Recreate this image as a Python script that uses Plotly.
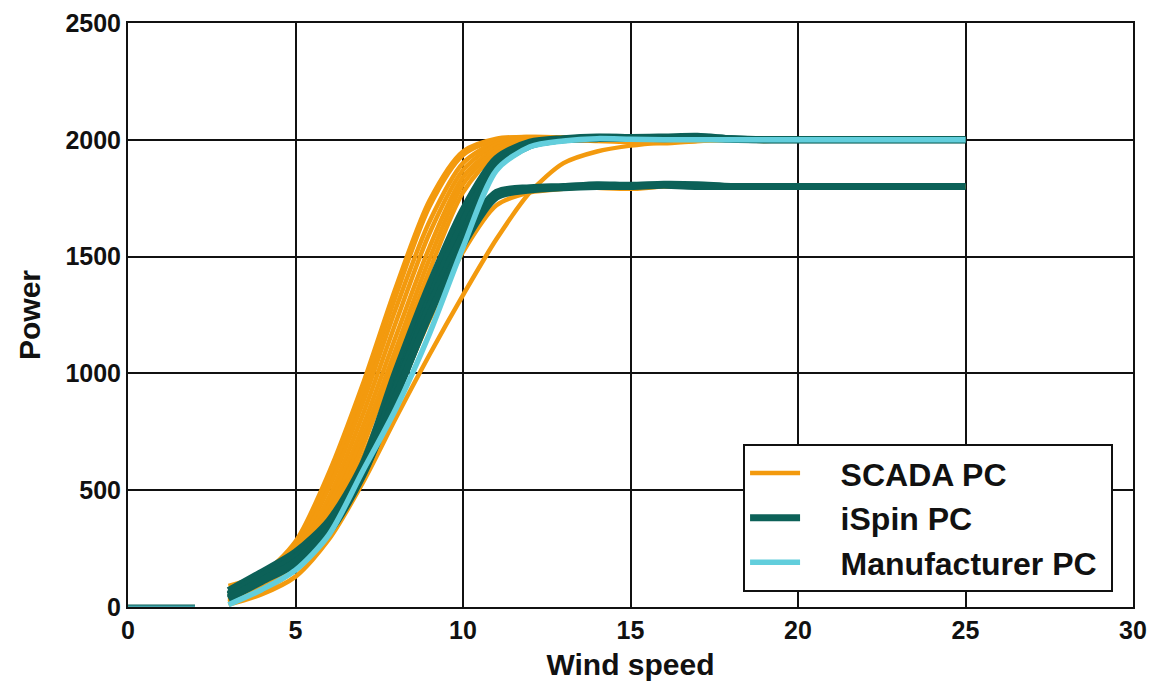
import plotly.graph_objects as go

# ---- data ----
wind = [3, 4, 5, 6, 7, 8, 9, 10, 11, 12, 13, 14, 15, 16, 17, 18, 19, 20, 21, 22, 23, 24, 25]

scada_1 = [90, 140, 280, 575, 950, 1370, 1740, 1950, 2005, 2012, 2010, 2005, 2000, 2000, 2000, 2000, 2000, 2000, 2000, 2000, 2000, 2000, 2000]
scada_2 = [60, 135, 265, 545, 915, 1335, 1715, 1935, 2000, 2012, 2010, 2005, 2000, 2000, 2000, 2000, 2000, 2000, 2000, 2000, 2000, 2000, 2000]
scada_3 = [50, 125, 250, 510, 870, 1280, 1650, 1900, 1990, 2010, 2010, 2005, 2000, 2000, 2000, 2000, 1995, 2000, 2000, 2000, 2000, 2000, 2000]
scada_4 = [40, 110, 232, 470, 820, 1220, 1600, 1870, 1980, 2005, 2010, 2002, 2000, 2000, 2000, 2000, 2000, 2000, 2000, 2000, 2000, 2000, 2000]
scada_5 = [30, 100, 215, 435, 770, 1160, 1540, 1840, 1965, 2000, 2005, 2000, 2000, 2000, 2000, 2000, 2000, 2000, 2000, 2000, 2000, 2000, 2000]
scada_6 = [25, 90, 200, 405, 725, 1105, 1490, 1810, 1955, 1995, 2005, 2000, 1995, 1990, 1995, 2000, 2000, 2000, 2000, 2000, 2000, 2000, 2000]
scada_7 = [20, 80, 185, 375, 685, 1060, 1440, 1775, 1940, 1990, 2000, 1995, 1990, 1985, 1995, 2000, 2000, 2000, 2000, 2000, 2000, 2000, 2000]
scada_8 = [10, 55, 130, 290, 530, 810, 1080, 1335, 1575, 1775, 1900, 1950, 1975, 1990, 2000, 2000, 2000, 2000, 2000, 2000, 2000, 2000, 2000]
scada_9 = [15, 70, 160, 330, 590, 900, 1230, 1520, 1720, 1775, 1790, 1800, 1795, 1805, 1800, 1800, 1800, 1800, 1800, 1800, 1800, 1800, 1800]
scada_10 = [20, 85, 180, 360, 640, 980, 1320, 1610, 1760, 1795, 1800, 1795, 1790, 1800, 1800, 1800, 1800, 1800, 1800, 1800, 1800, 1800, 1800]

ispin_1 = [70, 150, 235, 370, 610, 1010, 1380, 1700, 1920, 1990, 2005, 2012, 2010, 2012, 2015, 2005, 2000, 2000, 2000, 2000, 2000, 2000, 2000]
ispin_2 = [50, 130, 210, 345, 585, 955, 1320, 1650, 1900, 1985, 2002, 2010, 2010, 2008, 2012, 2004, 2000, 2000, 2000, 2000, 2000, 2000, 2000]
ispin_3 = [35, 110, 185, 320, 560, 900, 1260, 1600, 1880, 1975, 2000, 2005, 2008, 2005, 2008, 2002, 2000, 2000, 2000, 2000, 2000, 2000, 2000]
ispin_4 = [55, 135, 215, 355, 590, 940, 1290, 1590, 1775, 1795, 1800, 1808, 1805, 1810, 1808, 1800, 1800, 1800, 1800, 1800, 1800, 1800, 1800]
ispin_5 = [40, 115, 195, 330, 565, 905, 1250, 1550, 1755, 1785, 1795, 1800, 1800, 1805, 1800, 1800, 1800, 1800, 1800, 1800, 1800, 1800, 1800]

manufacturer = [10, 75, 158, 310, 580, 850, 1170, 1540, 1870, 1970, 1995, 2005, 2002, 2000, 2000, 2000, 2000, 2000, 2000, 2000, 2000, 2000, 2000]

zero_wind = [0, 1, 2]
zero_power = [0, 0, 0]

x_ticks = [0, 5, 10, 15, 20, 25, 30]
y_ticks = [0, 500, 1000, 1500, 2000, 2500]

legend_names = ["SCADA PC", "iSpin PC", "Manufacturer PC"]

ORANGE = "#F39A0E"
TEAL = "#0C6158"
CYAN = "#62CEDC"
INK = "#111111"
FONT = "Liberation Sans, Arial, sans-serif"
PAD = "\u00a0\u00a0\u00a0\u00a0"
TAIL = "\u00a0"

scada = [scada_1, scada_2, scada_3, scada_4, scada_5, scada_6, scada_7, scada_8, scada_9, scada_10]
ispin = [ispin_1, ispin_2, ispin_3, ispin_4, ispin_5]

fig = go.Figure()

for i, s in enumerate(scada):
    fig.add_trace(go.Scatter(
        x=wind, y=s, mode="lines", name=PAD + legend_names[0] + TAIL,
        line=dict(color=ORANGE, width=4.5, shape="spline", smoothing=0.8),
        legendgroup="scada", showlegend=(i == 0)))

fig.add_trace(go.Scatter(
    x=zero_wind, y=zero_power, mode="lines", showlegend=False,
    line=dict(color=TEAL, width=5), legendgroup="ispin"))

for i, s in enumerate(ispin):
    fig.add_trace(go.Scatter(
        x=wind, y=s, mode="lines", name=PAD + legend_names[1] + TAIL,
        line=dict(color=TEAL, width=7, shape="spline", smoothing=0.8),
        legendgroup="ispin", showlegend=(i == 0)))

fig.add_trace(go.Scatter(
    x=wind, y=manufacturer, mode="lines", name=PAD + legend_names[2] + TAIL,
    line=dict(color=CYAN, width=5.5, shape="spline", smoothing=0.8),
    legendgroup="manu", showlegend=True))

fig.add_trace(go.Scatter(
    x=zero_wind, y=zero_power, mode="lines", showlegend=False,
    line=dict(color="#45A6AE", width=3), legendgroup="manu"))

axis_common = dict(
    showgrid=True, gridcolor=INK, gridwidth=2,
    showline=True, linecolor=INK, linewidth=2, mirror=True,
    zeroline=False, ticks="", automargin=False,
    tickfont=dict(size=25, color=INK, family=FONT, weight="bold"),
)

fig.update_xaxes(range=[0, 30], tickvals=x_ticks,
                 title=dict(text="Wind speed", font=dict(size=30, color=INK, family=FONT, weight="bold"), standoff=11),
                 **axis_common)
fig.update_yaxes(range=[0, 2500], tickvals=y_ticks,
                 title=dict(text="Power", font=dict(size=30, color=INK, family=FONT, weight="bold"), standoff=16),
                 **axis_common)

fig.update_layout(
    width=1151, height=686,
    paper_bgcolor="white", plot_bgcolor="white",
    margin=dict(l=128, r=18, t=23, b=79, autoexpand=False),
    font=dict(family=FONT, color=INK),
    legend=dict(
        x=0.612, y=0.026, xanchor="left", yanchor="bottom",
        bgcolor="white", bordercolor=INK, borderwidth=2,
        font=dict(size=32, color=INK, family=FONT, weight="bold"),
        traceorder="grouped", tracegroupgap=0, itemwidth=50,
    ),
)

fig.write_html(
    "out.html",
    config={"displayModeBar": False},
    post_script=(
        "document.body.style.margin='0';"
        "document.body.style.overflow='hidden';"
        "document.documentElement.style.overflow='hidden';"
    ),
)
